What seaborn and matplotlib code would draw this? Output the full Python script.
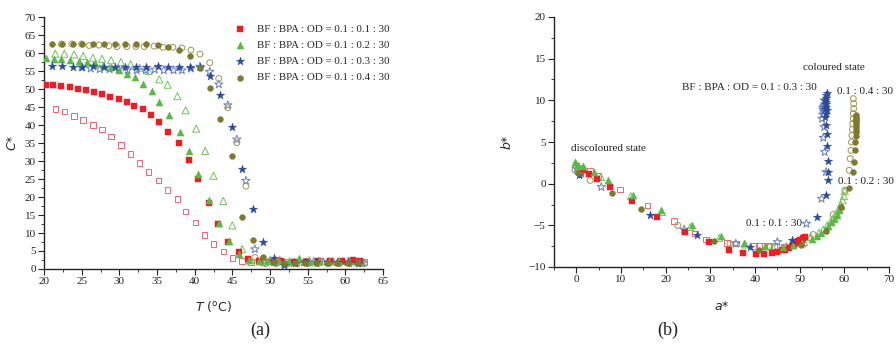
import numpy as np
import pandas as pd
import matplotlib
matplotlib.use("Agg")
import matplotlib.pyplot as plt
import seaborn as sns
from matplotlib.ticker import MultipleLocator

# ---------------- Panel (a): C* vs T ----------------
T_red_f = [20.2,21.2,22.3,23.4,24.5,25.6,26.7,27.7,28.8,29.9,31.0,32.0,33.1,34.2,35.2,36.5,37.9,39.2,40.5,41.9,43.1,44.4,45.9,47.1,48.5,50.0,51.5,53.2,54.8,56.4,58.0,59.6,61.0,62.0]
C_red_f = [51.2,51.2,50.8,50.5,50.0,49.6,49.1,48.6,47.7,47.2,46.4,45.4,44.4,42.8,40.7,38.1,35.0,30.2,24.9,18.2,12.6,7.5,4.7,2.9,2.2,2.0,2.1,2.0,1.9,2.3,2.3,2.3,2.4,2.3]
T_red_o = [21.5,22.7,24.0,25.2,26.5,27.7,28.9,30.2,31.5,32.7,33.9,35.2,36.4,37.7,38.8,40.1,41.3,42.5,43.8,45.0,46.3,47.5,49.0,50.5,52.0,53.5,55.0,56.5,58.0,59.5,61.0,62.5]
C_red_o = [44.4,43.7,42.5,41.4,40.0,38.7,36.8,34.4,31.9,29.4,27.0,24.6,22.0,19.4,16.0,12.9,9.5,7.0,4.9,3.1,2.2,2.0,1.9,1.8,1.9,2.0,2.2,2.3,2.2,2.3,2.4,2.0]
T_grn_f = [20.2,21.3,22.3,23.4,24.6,25.7,26.8,27.8,28.9,29.9,31.0,32.1,33.2,34.3,35.3,36.6,38.0,39.3,40.5,41.9,43.2,44.5,45.9,47.2,48.5,49.8,51.2,52.5,53.8,55.2,56.5,57.8,59.2,60.5,61.8]
C_grn_f = [58.6,58.4,58.4,58.0,57.7,57.4,57.1,56.6,56.0,55.2,54.1,53.2,51.5,49.5,46.4,42.9,38.1,32.7,26.4,19.1,12.9,7.8,4.2,2.5,2.3,2.1,2.2,1.9,2.7,2.0,2.1,2.1,2.2,2.1,2.0]
T_grn_o = [21.5,22.7,24.0,25.2,26.5,27.7,28.9,30.2,31.5,32.7,33.9,35.3,36.4,37.7,38.8,40.2,41.4,42.5,43.8,45.0,46.3,47.5,48.8,50.0,51.3,52.6,53.9,55.2,56.5,57.8,59.1,60.4,61.7]
C_grn_o = [59.8,59.8,59.6,59.2,58.7,58.4,58.0,57.5,56.9,55.9,55.0,52.7,51.2,48.0,44.1,39.0,32.8,25.9,18.9,12.1,5.5,2.0,2.3,2.5,2.6,2.2,2.8,2.4,2.3,2.2,2.1,2.3,2.1]
T_blu_f = [21.0,22.4,23.8,25.1,26.5,28.0,29.4,30.8,32.2,33.6,35.1,36.5,37.9,39.4,40.7,42.1,43.4,44.9,46.3,47.8,49.1,50.5,51.9,53.3,54.7,56.1,57.5,58.9,60.3,61.7]
C_blu_f = [56.3,56.3,56.2,56.2,56.3,56.2,56.2,56.0,56.0,56.0,56.3,56.2,56.2,56.2,56.0,53.6,48.3,39.4,27.7,16.7,7.6,3.1,1.2,1.8,1.9,2.0,1.9,2.0,1.9,1.8]
T_blu_o = [25.0,26.2,27.4,28.7,29.9,31.1,32.3,33.5,34.7,35.9,37.2,38.3,39.5,40.7,42.0,43.2,44.4,45.6,46.8,48.0,49.3,50.6,51.9,53.2,54.5,55.8,57.1,58.4,59.7,61.0,62.3]
C_blu_o = [56.0,55.7,55.5,55.5,55.5,55.2,55.2,55.2,55.4,55.2,55.2,55.2,55.7,56.2,54.8,51.3,45.5,36.0,24.5,5.5,2.2,1.9,1.5,1.8,1.8,2.0,1.9,1.8,1.9,1.9,1.8]
T_olv_f = [21.0,22.4,23.8,25.1,26.5,28.0,29.4,30.8,32.2,33.6,35.1,36.5,37.9,39.4,40.7,42.1,43.4,44.9,46.3,47.7,49.1,50.5,51.9,53.3,54.7,56.1,57.5,58.9,60.3,61.7]
C_olv_f = [62.6,62.6,62.6,62.6,62.6,62.4,62.4,62.4,62.4,62.4,62.1,61.7,60.8,59.3,55.8,50.4,41.6,31.5,14.5,8.0,3.3,2.0,1.8,1.7,1.7,1.7,1.7,1.8,1.7,1.7]
T_olv_o = [22.3,23.7,25.0,26.0,27.3,28.6,29.7,31.0,32.2,33.3,34.6,35.8,37.1,38.3,39.5,40.7,42.0,43.2,44.4,45.6,46.8,48.0,49.4,50.8,52.2,53.6,55.0,56.4,57.8,59.2,60.6,62.0,62.5]
C_olv_o = [62.5,62.5,62.5,62.1,62.2,62.0,61.8,61.8,61.8,61.8,61.9,61.6,61.6,61.4,60.8,59.7,57.3,52.9,44.8,35.1,23.0,3.2,1.5,1.5,1.4,1.5,1.5,1.5,1.5,1.5,1.5,1.5,1.5]

# ---------------- Panel (b): b* vs a* ----------------
a_red_f = [1.6,2.8,4.6,7.5,12.4,18.0,24.3,29.7,34.2,37.4,40.2,42.1,43.7,45.0,46.0,46.8,47.5,48.2,48.8,49.3,49.7,50.1,50.5,50.8,51.1]
b_red_f = [1.7,1.2,0.6,-0.4,-2.1,-4.0,-5.8,-7.0,-8.0,-8.3,-8.4,-8.4,-8.3,-8.2,-8.0,-7.9,-7.7,-7.5,-7.3,-7.1,-6.9,-6.8,-6.7,-6.5,-6.4]
a_red_o = [1.0,3.0,4.8,9.8,15.9,21.9,26.6,29.0,33.7,35.7,39.8,40.9,42.1,43.1,44.2,46.5,48.5,50.0]
b_red_o = [1.9,1.5,0.9,-0.7,-2.6,-4.5,-6.0,-6.7,-7.1,-7.2,-7.5,-7.5,-7.5,-7.5,-7.5,-7.6,-7.3,-6.9]
a_grn_f = [-0.3,0.3,1.6,3.9,7.1,12.7,19.0,25.8,32.3,37.5,42.3,46.2,48.5,50.5,52.8,53.8,54.8,55.6,56.4,57.1,57.7,58.3,58.8,59.2]
b_grn_f = [2.6,2.3,2.1,1.4,0.5,-1.3,-3.2,-5.0,-6.3,-7.1,-7.5,-7.6,-7.4,-7.1,-6.6,-6.3,-5.9,-5.5,-5.1,-4.6,-4.2,-3.7,-3.2,-2.7]
a_grn_o = [-0.2,0.5,5.5,12.2,19.2,25.5,32.0,37.8,44.0,47.0,51.0,52.5,54.3,55.3,56.2,57.0,57.7,58.3,58.8,59.2,59.6,59.9,60.1]
b_grn_o = [2.4,2.0,0.8,-1.5,-3.4,-5.2,-6.5,-7.3,-7.6,-7.5,-7.0,-6.4,-5.9,-5.5,-5.0,-4.5,-4.0,-3.5,-3.0,-2.5,-2.0,-1.5,-0.9]
a_blu_f = [0.7,16.5,27.0,38.9,48.2,53.8,56.0,56.4,56.3,56.4,56.2,56.1,55.9,55.7,55.9,56.1,55.8,56.0,55.7,56.0,55.9,55.6,55.8,56.1]
b_blu_f = [1.0,-3.7,-6.2,-7.6,-6.8,-4.0,-1.3,0.4,1.4,2.7,4.5,6.0,7.0,8.0,8.4,8.8,9.2,9.6,10.0,10.3,10.6,9.0,9.8,10.9]
a_blu_o = [0.1,1.0,5.6,24.1,35.7,45.0,51.5,54.9,55.9,55.6,55.3,55.5,55.0,55.2,55.4,55.2,55.6,55.3,55.5,55.4]
b_blu_o = [1.8,1.2,-0.4,-5.5,-7.2,-7.0,-4.8,-1.8,1.4,3.8,5.5,6.8,7.8,8.3,8.7,9.1,9.5,8.9,10.0,9.3]
a_olv_f = [0.3,8.0,14.4,30.9,40.9,50.3,55.9,59.3,61.1,62.0,62.2,62.3,62.4,62.5,62.5,62.6,62.5,62.6,62.5,62.6,62.5,62.6,62.5]
b_olv_f = [1.3,-1.1,-3.0,-6.9,-8.0,-7.3,-5.7,-2.8,-0.5,1.4,2.6,4.1,5.0,5.7,6.2,6.5,6.8,7.1,7.4,7.6,7.8,8.0,8.2]
a_olv_o = [-0.3,0.5,1.0,3.1,22.7,34.4,43.3,53.0,57.5,60.1,61.1,61.3,61.5,61.6,61.7,61.8,61.9,62.0,62.0,62.1,62.1,62.0]
b_olv_o = [1.6,1.4,1.1,0.4,-5.0,-7.2,-7.6,-6.1,-3.7,-0.8,1.6,3.0,4.0,5.0,5.8,6.5,7.2,7.8,8.4,9.0,9.6,10.2]

legend_labels = ["BF : BPA : OD = 0.1 : 0.1 : 30", "BF : BPA : OD = 0.1 : 0.2 : 30",
                 "BF : BPA : OD = 0.1 : 0.3 : 30", "BF : BPA : OD = 0.1 : 0.4 : 30"]

sns.set_theme(style="ticks")
plt.rcParams['font.family'] = ['Liberation Serif', 'DejaVu Serif']
plt.rcParams['mathtext.fontset'] = 'dejavusans'

fig = plt.figure(figsize=(8.96, 3.47), dpi=100)
axa = fig.add_axes([44/896, 1-269/347, 339/896, 252/347])
axb = fig.add_axes([554/896, 1-267/347, 335/896, 250/347])

# style per series: (marker, filled colour, open colour, size)
styles = {
    "red": ("s", "#ee1c25", "#f26673", 16),
    "grn": ("^", "#5ab946", "#72c35e", 26),
    "blu": ("*", "#2b4a9e", "#6b7fc0", 40),
    "olv": ("o", "#7c7a2c", "#9a9850", 18),
}

def draw(ax, xf, yf, xo, yo, key, label=None):
    m, cf, co, s = styles[key]
    sns.scatterplot(x=xo, y=yo, ax=ax, marker=m, s=s, facecolor="none",
                    edgecolor=co, linewidth=0.7, zorder=2)
    sns.scatterplot(x=xf, y=yf, ax=ax, marker=m, s=s, color=cf,
                    edgecolor=cf, linewidth=0.3, zorder=3, label=label)

draw(axa, T_red_f, C_red_f, T_red_o, C_red_o, "red", legend_labels[0])
draw(axa, T_grn_f, C_grn_f, T_grn_o, C_grn_o, "grn", legend_labels[1])
draw(axa, T_blu_f, C_blu_f, T_blu_o, C_blu_o, "blu", legend_labels[2])
draw(axa, T_olv_f, C_olv_f, T_olv_o, C_olv_o, "olv", legend_labels[3])

draw(axb, a_red_f, b_red_f, a_red_o, b_red_o, "red")
draw(axb, a_grn_f, b_grn_f, a_grn_o, b_grn_o, "grn")
draw(axb, a_blu_f, b_blu_f, a_blu_o, b_blu_o, "blu")
draw(axb, a_olv_f, b_olv_f, a_olv_o, b_olv_o, "olv")

for ax in (axa, axb):
    sns.despine(ax=ax)
    for sp in ("left", "bottom"):
        ax.spines[sp].set_linewidth(1.0)
        ax.spines[sp].set_color("#222222")
    ax.tick_params(which="major", direction="out", length=4, width=0.8,
                   labelsize=8, colors="#222222", pad=2)
    ax.tick_params(which="minor", direction="out", length=2, width=0.6, colors="#222222")

axa.set_xlim(20, 65)
axa.set_ylim(0, 70)
axa.xaxis.set_major_locator(MultipleLocator(5))
axa.xaxis.set_minor_locator(MultipleLocator(2.5))
axa.yaxis.set_major_locator(MultipleLocator(5))
axa.yaxis.set_minor_locator(MultipleLocator(2.5))
axa.set_xlabel(r"$\it{T}$ ($^{\mathrm{o}}$C)", fontsize=9, family="DejaVu Sans", labelpad=9)
axa.set_ylabel(r"$\it{C}$*", fontsize=9, family="DejaVu Sans", labelpad=4)

axb.set_xlim(-5, 70)
axb.set_ylim(-10, 20)
axb.xaxis.set_major_locator(MultipleLocator(10))
axb.xaxis.set_minor_locator(MultipleLocator(5))
axb.yaxis.set_major_locator(MultipleLocator(5))
axb.yaxis.set_minor_locator(MultipleLocator(2.5))
axb.set_xlabel(r"$\it{a}$*", fontsize=9, family="DejaVu Sans", labelpad=11)
axb.set_ylabel(r"$\it{b}$*", fontsize=9, family="DejaVu Sans", labelpad=10)

leg = axa.legend(loc="upper left", bbox_to_anchor=(0.525, 1.0), frameon=False,
                 fontsize=7.8, handletextpad=0.5, labelspacing=0.6, borderaxespad=0.3,
                 markerscale=1.0)

tk = dict(fontsize=8, color="#222222")
axb.text(-1.1, 4.2, "discoloured state", ha="left", va="center", **tk)
axb.text(50.7, 14.0, "coloured state", ha="left", va="center", **tk)
axb.text(53.8, 11.5, "BF : BPA : OD = 0.1 : 0.3 : 30", ha="right", va="center", **tk)
axb.text(58.3, 11.0, "0.1 : 0.4 : 30", ha="left", va="center", **tk)
axb.text(58.5, 0.2, "0.1 : 0.2 : 30", ha="left", va="center", **tk)
axb.text(50.5, -4.8, "0.1 : 0.1 : 30", ha="right", va="center", **tk)

fig.text(260/896, 1-330/347, "(a)", ha="center", va="center", fontsize=13, color="#222222")
fig.text(668/896, 1-330/347, "(b)", ha="center", va="center", fontsize=13, color="#222222")

fig.savefig("out.png", dpi=100)
